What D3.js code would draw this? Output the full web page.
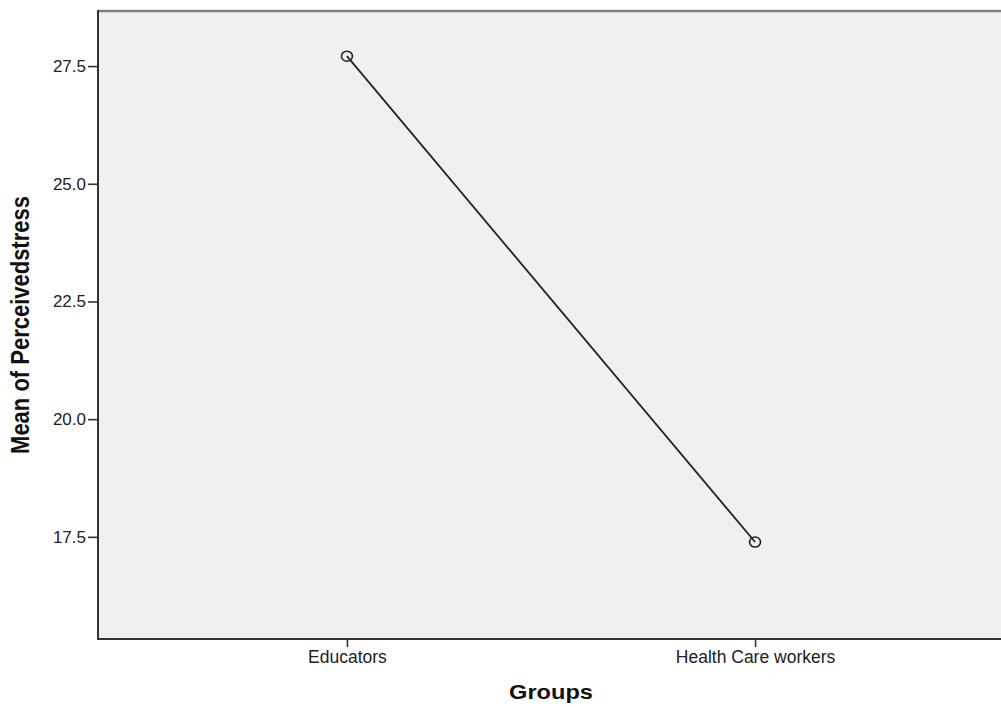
<!DOCTYPE html>
<html>
<head>
<meta charset="utf-8">
<script src="https://cdn.jsdelivr.net/npm/d3@7"></script>
<style>
  html, body { margin: 0; padding: 0; background: #fff; overflow: hidden; }
  svg { display: block; }
</style>
</head>
<body>
<svg id="chart" width="1001" height="707"></svg>
<script>
// Group means of perceived stress
const groups = ["Educators", "Health Care workers"];
const means = [27.71, 17.39];
const yTicks = [17.5, 20.0, 22.5, 25.0, 27.5];

const FONT = "'Liberation Sans', Arial, sans-serif";
const svg = d3.select("#chart");
const plot = { left: 98, top: 11, right: 1004, bottom: 639 };

const x = d3.scalePoint()
  .domain(groups)
  .range([plot.left, plot.right])
  .padding(0.61);

const y = d3.scaleLinear()
  .domain([15.33, 28.67])
  .range([plot.bottom, plot.top]);

// plot background
svg.append("rect")
  .attr("x", plot.left).attr("y", plot.top)
  .attr("width", plot.right - plot.left)
  .attr("height", plot.bottom - plot.top)
  .attr("fill", "#f0f0f0");

// frame (top and right edges)
svg.append("line")
  .attr("x1", plot.left).attr("x2", plot.right)
  .attr("y1", plot.top).attr("y2", plot.top)
  .attr("stroke", "#808080").attr("stroke-width", 2.5);
svg.append("line")
  .attr("x1", plot.right).attr("x2", plot.right)
  .attr("y1", plot.top).attr("y2", plot.bottom)
  .attr("stroke", "#808080").attr("stroke-width", 1);

// y axis
const yAxis = d3.axisLeft(y)
  .tickValues(yTicks)
  .tickFormat(d3.format(".1f"))
  .tickSize(10)
  .tickPadding(2);
const gy = svg.append("g")
  .attr("transform", `translate(${plot.left},0)`)
  .call(yAxis);
gy.select(".domain").attr("stroke", "#333").attr("stroke-width", 2)
  .attr("d", `M0,${plot.top - 1}V${plot.bottom}`);
gy.selectAll(".tick line").attr("stroke", "#333").attr("stroke-width", 1.6);
gy.selectAll(".tick text")
  .attr("fill", "#222")
  .style("font-family", FONT)
  .style("font-size", "17px");

// x axis
const xAxis = d3.axisBottom(x).tickSize(8).tickPadding(4);
const gx = svg.append("g")
  .attr("transform", `translate(0,${plot.bottom})`)
  .call(xAxis);
gx.select(".domain").attr("stroke", "#333").attr("stroke-width", 2)
  .attr("d", `M${plot.left - 1},0H${plot.right}`);
gx.selectAll(".tick line").attr("stroke", "#333").attr("stroke-width", 1.6);
gx.selectAll(".tick text")
  .attr("fill", "#222")
  .style("font-family", FONT)
  .style("font-size", "17.5px");

// mean line
const pts = groups.map((g, i) => ({ g, v: means[i] }));
svg.append("path")
  .datum(pts)
  .attr("fill", "none")
  .attr("stroke", "#222")
  .attr("stroke-width", 1.8)
  .attr("d", d3.line().x(d => x(d.g)).y(d => y(d.v)));

svg.selectAll("ellipse.marker")
  .data(pts)
  .enter().append("ellipse")
  .attr("class", "marker")
  .attr("cx", d => x(d.g))
  .attr("cy", d => y(d.v))
  .attr("rx", 5.5)
  .attr("ry", 5)
  .attr("fill", "none")
  .attr("stroke", "#222")
  .attr("stroke-width", 1.6);

// axis titles
svg.append("text")
  .attr("transform", `translate(${(plot.left + plot.right) / 2},699) scale(1.18,1)`)
  .attr("text-anchor", "middle")
  .style("font-family", FONT)
  .style("font-size", "20px")
  .style("font-weight", "bold")
  .attr("fill", "#111")
  .text("Groups");

svg.append("text")
  .attr("transform", `translate(29,${(plot.top + plot.bottom) / 2}) rotate(-90) scale(1,1.2)`)
  .attr("text-anchor", "middle")
  .style("font-family", FONT)
  .style("font-size", "22px")
  .style("font-weight", "bold")
  .attr("fill", "#111")
  .text("Mean of Perceivedstress");
</script>
</body>
</html>
